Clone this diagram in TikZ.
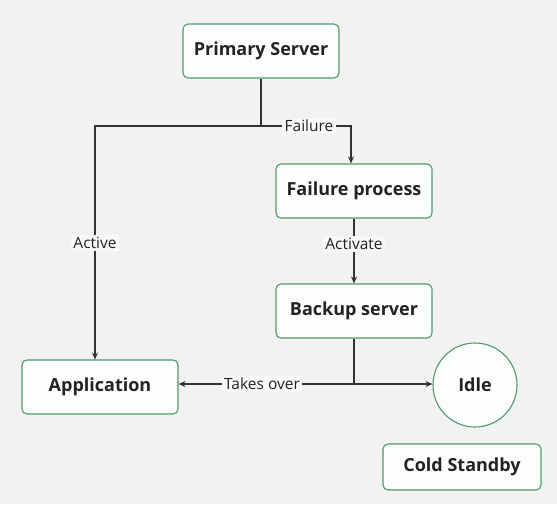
\documentclass[tikz,border=0pt]{standalone}
\usepackage{fontspec}
\setmainfont{Open Sans}
\usetikzlibrary{arrows.meta,positioning}
\definecolor{bg}{HTML}{F2F2F2}
\definecolor{tagbg}{HTML}{F8F8F8}
\definecolor{boxline}{HTML}{4E9A6C}
\definecolor{boxfill}{HTML}{FBFEFC}
\definecolor{wire}{HTML}{333333}
\definecolor{ink}{HTML}{222222}
\tikzset{
  stepbox/.style={draw=boxline, fill=boxfill, line width=1.1pt, rounded corners=5pt,
    minimum width=156pt, minimum height=54pt, text=ink, font=\fontsize{18}{21}\selectfont\bfseries},
  statecircle/.style={circle, draw=boxline, fill=boxfill, line width=1.1pt, minimum size=84pt,
    text=ink, font=\fontsize{18}{21}\selectfont\bfseries},
  wirestyle/.style={draw=wire, line width=1.1pt, -{Stealth[length=7pt,width=6pt]}},
  plain/.style={draw=wire, line width=1.1pt},
  tag/.style={fill=tagbg, text=ink, inner sep=2.5pt, font=\fontsize{15.5}{18}\selectfont}
}
\begin{document}
\begin{tikzpicture}[x=1pt,y=-1pt]
  \fill[bg] (0,0) rectangle (557,504);
  \useasboundingbox (0,0) rectangle (557,504);

  \node[stepbox] (primary) at (261,51) {Primary Server};
  \node[stepbox] (failproc) at (354,191) {Failure process};
  \node[stepbox] (backup) at (354,311) {Backup server};
  \node[stepbox] (app) at (100,387) {Application};
  \node[statecircle] (idle) at (475,385) {Idle};
  \node[stepbox, minimum width=158pt, minimum height=46pt] (cold) at (462,467) {Cold Standby};

  \coordinate (split) at (261,126);
  \coordinate (leftturn) at (95,126);
  \coordinate (rightturn) at (351,126);
  \coordinate (join) at (354,384);

  % primary server fans out: active path left, failure path right
  \draw[plain] (primary.south) -- (split);
  \draw[wirestyle] (split) -- (leftturn) -- (leftturn |- app.north);
  \node[tag] (acttag) at (95,243) {Active};
  \draw[wirestyle] (split) -- (rightturn) -- (rightturn |- failproc.north);
  \node[tag] (failtag) at (309,126) {Failure};

  % failure process activates the backup
  \draw[wirestyle] (failproc.south) -- (backup.north);
  \node[tag] (activtag) at (354,244) {Activate};

  % backup server takes over
  \draw[plain] (backup.south) -- (join);
  \draw[wirestyle] (join) -- (join -| app.east);
  \node[tag] (taketag) at (262,384) {Takes over};
  \draw[wirestyle] (join) -- (join -| idle.west);
\end{tikzpicture}
\end{document}
